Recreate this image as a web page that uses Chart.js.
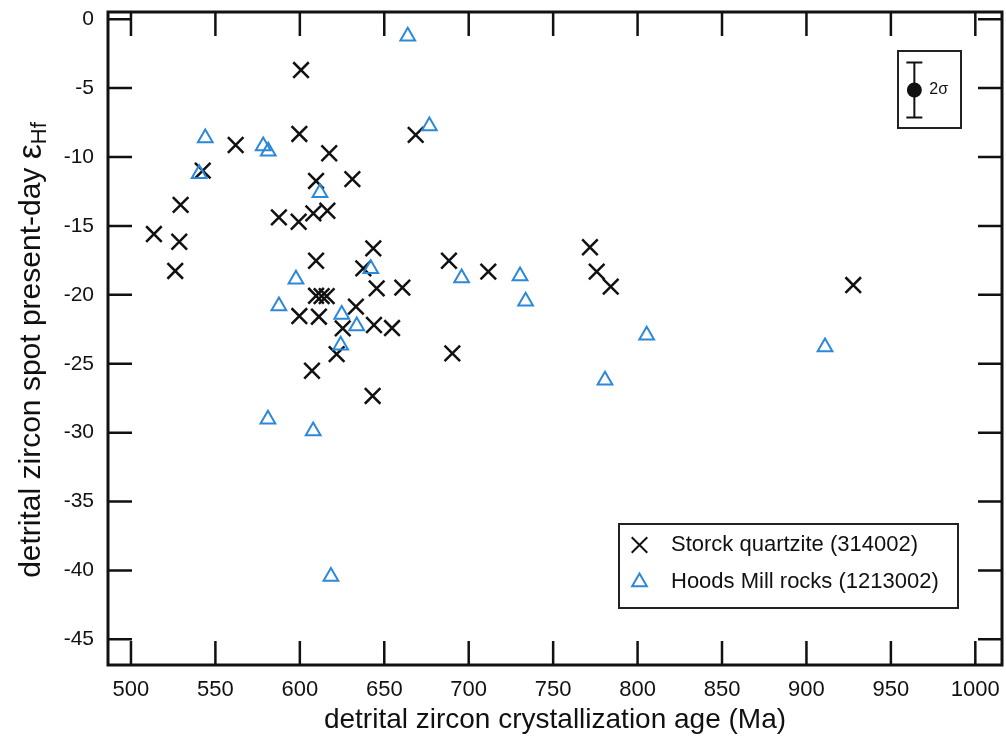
<!DOCTYPE html>
<html>
<head>
<meta charset="utf-8">
<script src="https://cdn.jsdelivr.net/npm/chart.js@4.4.0/dist/chart.umd.min.js"></script>
<style>
    html, body { margin: 0; padding: 0; background: #fff; }
</style>
</head>
<body>
<canvas id="hfChart" width="1006" height="747"></canvas>
<script>
// Storck quartzite (314002): age (Ma) / present-day eHf
const storckAge = [513.6, 528.6, 526.2, 529.4, 542.5, 562.0, 599.7, 600.7, 617.4, 609.6,
                   631.1, 587.6, 599.3, 608.0, 616.3, 609.6, 643.5, 637.6, 645.5, 609.6,
                   612.9, 615.9, 599.7, 611.3, 633.2, 625.4, 643.9, 654.6, 621.8, 607.2,
                   643.1, 660.7, 688.3, 711.6, 690.3, 668.6, 771.8, 775.8, 784.1, 927.7];
const storckEps = [-15.59, -16.15, -18.27, -13.48, -10.99, -9.13, -8.33, -3.69, -9.73, -11.74,
                   -11.60, -14.38, -14.70, -14.09, -13.90, -17.53, -16.63, -18.08, -19.53, -20.07,
                   -20.09, -20.09, -21.54, -21.59, -20.86, -22.43, -22.19, -22.41, -24.30, -25.51,
                   -27.34, -19.48, -17.53, -18.32, -24.25, -8.40, -16.55, -18.32, -19.41, -19.29];

// Hoods Mill rocks (1213002)
const hoodsAge = [544.0, 578.3, 581.3, 540.4, 611.9, 663.9, 676.7, 642.0, 597.7, 587.6,
                  624.8, 633.7, 624.2, 581.1, 607.9, 618.4, 695.8, 730.4, 733.7, 805.4,
                  780.7, 911.0];
const hoodsEps = [-8.62, -9.20, -9.59, -11.21, -12.59, -1.24, -7.75, -18.11, -18.87, -20.81,
                  -21.42, -22.26, -23.66, -29.03, -29.88, -40.43, -18.78, -18.64, -20.47, -22.94,
                  -26.20, -23.79];

const xTicks = [500, 550, 600, 650, 700, 750, 800, 850, 900, 950, 1000];
const yTicks = [0, -5, -10, -15, -20, -25, -30, -35, -40, -45];

// typical 2 sigma uncertainty shown in the corner
const errAge = 963.9;
const errEps = -5.14;
const twoSigma = 2.0;

const seriesNames = ['Storck quartzite (314002)', 'Hoods Mill rocks (1213002)'];

const BLUE = '#2c88d8';
const INK = '#111';
const FONT = "'Liberation Sans', Arial, sans-serif";

// frame around the plot with inward ticks on all four sides
const framePlugin = {
    id: 'frame',
    afterDatasetsDraw(chart) {
        const { ctx, chartArea: a, scales: { x, y } } = chart;
        const len = 24;
        ctx.save();
        ctx.strokeStyle = INK;
        ctx.lineWidth = 2.5;
        ctx.beginPath();
        x.ticks.forEach(t => {
            const px = x.getPixelForValue(t.value);
            ctx.moveTo(px, a.bottom); ctx.lineTo(px, a.bottom - len);
            ctx.moveTo(px, a.top); ctx.lineTo(px, a.top + len);
        });
        y.ticks.forEach(t => {
            const py = y.getPixelForValue(t.value);
            ctx.moveTo(a.left, py); ctx.lineTo(a.left + len, py);
            ctx.moveTo(a.right, py); ctx.lineTo(a.right - len, py);
        });
        ctx.stroke();
        ctx.lineWidth = 3;
        ctx.strokeRect(a.left, a.top, a.right - a.left, a.bottom - a.top);
        ctx.restore();
    }
};

// y title with the Hf subscript
const yTitlePlugin = {
    id: 'yTitle',
    afterDraw(chart) {
        const ctx = chart.ctx;
        const main = 'detrital zircon spot present-day ';
        const eps = '\u03B5';
        const sub = 'Hf';
        ctx.save();
        ctx.fillStyle = INK;
        ctx.textBaseline = 'middle';
        ctx.font = '30px ' + FONT;
        const wMain = ctx.measureText(main).width;
        ctx.font = '34px ' + FONT;
        const wEps = ctx.measureText(eps).width;
        ctx.font = '22px ' + FONT;
        const wSub = ctx.measureText(sub).width;
        const total = wMain + wEps + wSub;
        ctx.translate(32, 350);
        ctx.rotate(-Math.PI / 2);
        let cx = -total / 2;
        ctx.font = '30px ' + FONT;
        ctx.fillText(main, cx, 0);
        cx += wMain;
        ctx.font = '34px ' + FONT;
        ctx.fillText(eps, cx, 0);
        cx += wEps;
        ctx.font = '22px ' + FONT;
        ctx.fillText(sub, cx, 8);
        ctx.restore();
    }
};

// legend box and the 2 sigma key
const keyPlugin = {
    id: 'keys',
    afterDraw(chart) {
        const ctx = chart.ctx;
        const { x, y } = chart.scales;
        ctx.save();
        ctx.strokeStyle = '#222';
        ctx.lineWidth = 2;
        ctx.strokeRect(619, 524, 339, 84);
        ctx.strokeRect(898, 51, 63, 77);

        // series markers, same style as the datasets
        [0, 1].forEach(i => {
            const ds = chart.data.datasets[i];
            const my = 545 + i * 37;
            ctx.strokeStyle = ds.borderColor;
            ctx.fillStyle = 'rgba(0,0,0,0)';
            Chart.helpers.drawPoint(ctx, {
                pointStyle: ds.pointStyle,
                radius: ds.pointRadius,
                borderWidth: ds.borderWidth,
                rotation: 0
            }, 639.5, my);
            ctx.fillStyle = INK;
            ctx.font = '22px ' + FONT;
            ctx.textBaseline = 'middle';
            ctx.fillText(seriesNames[i], 671, my);
        });

        // error whiskers around the key point
        const ex = x.getPixelForValue(errAge);
        const yTop = y.getPixelForValue(errEps + twoSigma);
        const yBot = y.getPixelForValue(errEps - twoSigma);
        ctx.strokeStyle = INK;
        ctx.lineWidth = 2;
        ctx.beginPath();
        ctx.moveTo(ex, yTop); ctx.lineTo(ex, yBot);
        ctx.moveTo(ex - 8, yTop); ctx.lineTo(ex + 8, yTop);
        ctx.moveTo(ex - 8, yBot); ctx.lineTo(ex + 8, yBot);
        ctx.stroke();
        ctx.fillStyle = INK;
        ctx.font = '16px ' + FONT;
        ctx.textBaseline = 'middle';
        ctx.fillText('2\u03C3', ex + 15, y.getPixelForValue(errEps));
        ctx.restore();
    }
};

// keep the plot box fixed: no extra room for overhanging labels
const fixPadding = axis => {
    axis.paddingLeft = 0;
    axis.paddingRight = 0;
    axis.paddingTop = 0;
    axis.paddingBottom = 0;
};

var ctx = document.getElementById('hfChart').getContext('2d');

new Chart(ctx, {
    type: 'scatter',
    data: {
        datasets: [{
            label: seriesNames[0],
            data: storckAge.map((a, i) => ({ x: a, y: storckEps[i] })),
            pointStyle: 'crossRot',
            pointRadius: 11,
            borderColor: INK,
            borderWidth: 2.5,
            order: 2
        }, {
            label: seriesNames[1],
            data: hoodsAge.map((a, i) => ({ x: a, y: hoodsEps[i] })),
            pointStyle: 'triangle',
            pointRadius: 8.5,
            borderColor: BLUE,
            backgroundColor: 'rgba(0,0,0,0)',
            borderWidth: 2,
            order: 1
        }, {
            label: '2 sigma',
            data: [{ x: errAge, y: errEps }],
            pointStyle: 'circle',
            pointRadius: 7.5,
            borderColor: INK,
            backgroundColor: INK,
            borderWidth: 0,
            order: 0
        }]
    },
    options: {
        responsive: false,
        animation: false,
        devicePixelRatio: 1,
        layout: {
            autoPadding: false,
            padding: { top: 12, right: 4, left: 0, bottom: 0 }
        },
        plugins: {
            legend: { display: false },
            tooltip: { enabled: false }
        },
        scales: {
            x: {
                type: 'linear',
                min: 486.4,
                max: 1015.8,
                grid: { display: false, drawTicks: false },
                border: { display: false },
                afterBuildTicks: axis => { axis.ticks = xTicks.map(v => ({ value: v })); },
                afterFit: axis => { axis.height = 82; fixPadding(axis); },
                ticks: {
                    color: INK,
                    padding: 14,
                    maxRotation: 0,
                    autoSkip: false,
                    font: { family: FONT, size: 22, lineHeight: 1 },
                    callback: v => String(v)
                },
                title: {
                    display: true,
                    text: 'detrital zircon crystallization age (Ma)',
                    color: INK,
                    padding: { top: 0, bottom: 13 },
                    font: { family: FONT, size: 28, lineHeight: 1 }
                }
            },
            y: {
                type: 'linear',
                min: -46.86,
                max: 0.52,
                grid: { display: false, drawTicks: false },
                border: { display: false },
                afterBuildTicks: axis => { axis.ticks = yTicks.map(v => ({ value: v })); },
                afterFit: axis => { axis.width = 108; fixPadding(axis); },
                ticks: {
                    color: INK,
                    padding: 14,
                    autoSkip: false,
                    font: { family: FONT, size: 21, lineHeight: 1 },
                    callback: v => String(v)
                }
            }
        }
    },
    plugins: [framePlugin, yTitlePlugin, keyPlugin]
});
</script>
</body>
</html>
